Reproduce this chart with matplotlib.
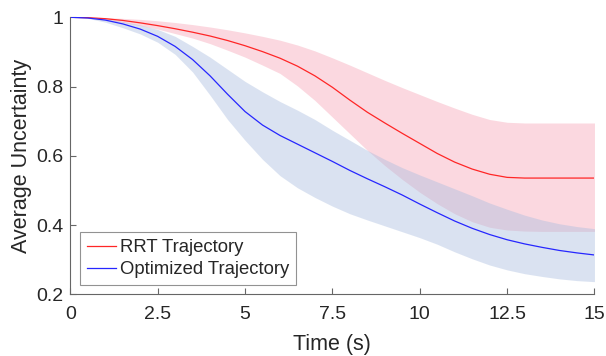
import numpy as np
import matplotlib
matplotlib.use("Agg")
import matplotlib.pyplot as plt

# ---- data ----
t = [0, 0.5, 1, 1.5, 2, 2.5, 3, 3.5, 4, 4.5, 5, 5.5, 6, 6.5, 7, 7.5,
     8, 8.5, 9, 9.5, 10, 10.5, 11, 11.5, 12, 12.5, 13, 13.5, 14, 14.5, 15]

rrt_mean = [1.0, 0.999, 0.996, 0.991, 0.984, 0.976, 0.967, 0.957, 0.946, 0.933,
            0.918, 0.901, 0.882, 0.859, 0.831, 0.798, 0.761, 0.726, 0.695, 0.665,
            0.636, 0.607, 0.582, 0.562, 0.547, 0.538, 0.536, 0.536, 0.536, 0.536, 0.536]
rrt_upper = [1.0, 1.0, 0.999, 0.997, 0.994, 0.990, 0.985, 0.979, 0.972, 0.964,
             0.955, 0.945, 0.934, 0.920, 0.903, 0.883, 0.862, 0.840, 0.818, 0.797,
             0.777, 0.757, 0.738, 0.720, 0.705, 0.697, 0.695, 0.695, 0.695, 0.695, 0.695]
rrt_lower = [1.0, 0.998, 0.993, 0.985, 0.976, 0.966, 0.953, 0.940, 0.924, 0.905,
             0.885, 0.862, 0.838, 0.802, 0.760, 0.712, 0.664, 0.616, 0.572, 0.532,
             0.495, 0.462, 0.433, 0.410, 0.394, 0.386, 0.383, 0.382, 0.382, 0.382, 0.382]

opt_mean = [1.0, 0.998, 0.992, 0.981, 0.966, 0.945, 0.916, 0.878, 0.831, 0.778,
            0.728, 0.689, 0.659, 0.634, 0.609, 0.584, 0.558, 0.534, 0.511, 0.487,
            0.461, 0.436, 0.412, 0.391, 0.373, 0.358, 0.346, 0.336, 0.327, 0.320, 0.314]
opt_upper = [1.0, 0.999, 0.995, 0.988, 0.978, 0.965, 0.945, 0.916, 0.885, 0.850,
             0.815, 0.785, 0.757, 0.732, 0.705, 0.674, 0.645, 0.616, 0.590, 0.566,
             0.545, 0.525, 0.505, 0.485, 0.464, 0.446, 0.429, 0.415, 0.404, 0.396, 0.390]
opt_lower = [1.0, 0.997, 0.986, 0.970, 0.952, 0.928, 0.893, 0.842, 0.775, 0.705,
             0.645, 0.590, 0.543, 0.508, 0.480, 0.455, 0.433, 0.415, 0.398, 0.381,
             0.364, 0.345, 0.323, 0.303, 0.285, 0.271, 0.260, 0.252, 0.245, 0.240, 0.237]

labels = ["RRT Trajectory", "Optimized Trajectory"]
xticks = [0, 2.5, 5, 7.5, 10, 12.5, 15]
xticklabels = ["0", "2.5", "5", "7.5", "10", "12.5", "15"]
yticks = [0.2, 0.4, 0.6, 0.8, 1.0]
yticklabels = ["0.2", "0.4", "0.6", "0.8", "1"]

plt.rcParams['font.family'] = ['Liberation Sans', 'DejaVu Sans']

fig = plt.figure(figsize=(6.06, 3.56), dpi=100)
ax = fig.add_axes([0.116, 0.1728, 0.865, 0.7786])

ax.fill_between(t, rrt_lower, rrt_upper, color='#F7AABB', alpha=0.45, linewidth=0)
ax.fill_between(t, opt_lower, opt_upper, color='#A9BCDF', alpha=0.42, linewidth=0)
ax.plot(t, rrt_mean, color='#FF2626', linewidth=0.9, label=labels[0])
ax.plot(t, opt_mean, color='#2626FF', linewidth=0.9, label=labels[1])

ax.set_xlim(0, 15)
ax.set_ylim(0.2, 1.0)
ax.set_xticks(xticks)
ax.set_xticklabels(xticklabels)
ax.set_yticks(yticks)
ax.set_yticklabels(yticklabels)

for s in ['top', 'right']:
    ax.spines[s].set_visible(False)
for s in ['left', 'bottom']:
    ax.spines[s].set_color('#666666')
    ax.spines[s].set_linewidth(0.8)

ax.tick_params(direction='in', length=4, width=0.8, color='#666666',
               labelsize=14, labelcolor='#262626')
ax.tick_params(axis='x', pad=8.5)
ax.tick_params(axis='y', pad=5)

ax.set_xlabel("Time (s)", fontsize=15.5, color='#262626', labelpad=8)
ax.set_ylabel("Average Uncertainty", fontsize=15.5, color='#262626', labelpad=3)

leg = ax.legend(loc='lower left', bbox_to_anchor=(0.018, 0.033), borderaxespad=0,
                fontsize=13.3, handlelength=1.6, handletextpad=0.2,
                borderpad=0.38, labelspacing=0.28, frameon=True, fancybox=False)
leg.get_frame().set_edgecolor('#777777')
leg.get_frame().set_linewidth(0.8)
for txt in leg.get_texts():
    txt.set_color('#262626')

fig.savefig("out.png", dpi=100)
